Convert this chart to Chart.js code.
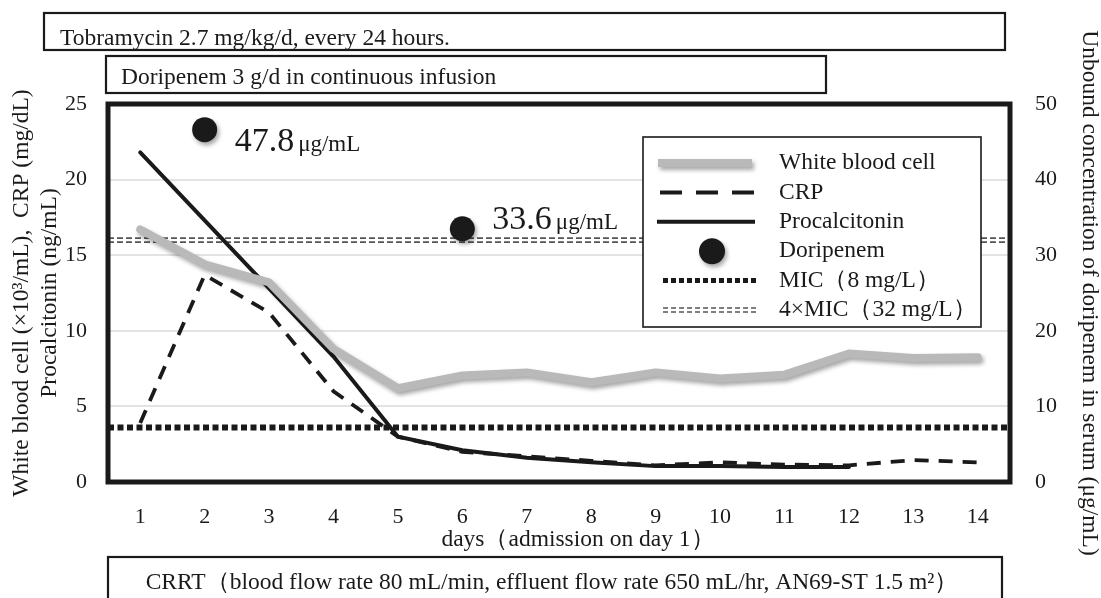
<!DOCTYPE html>
<html lang="en">
<head>
<meta charset="UTF-8">
<title>Doripenem, CRRT</title>
<script src="https://cdn.jsdelivr.net/npm/chart.js"></script>
<style>
  html, body { margin: 0; padding: 0; background: #fff; }
</style>
</head>
<body>
<canvas id="chart" width="1101" height="598"></canvas>
<script>
// values
const days = ['1', '2', '3', '4', '5', '6', '7', '8', '9', '10', '11', '12', '13', '14'];
const wbc = [16.7, 14.4, 13.2, 8.8, 6.2, 7.05, 7.25, 6.6, 7.25, 6.85, 7.1, 8.5, 8.2, 8.25];
const crp = [3.9, 13.7, 11.2, 6.0, 3.0, 2.0, 1.7, 1.4, 1.1, 1.3, 1.15, 1.1, 1.45, 1.3];
const pct = [21.8, 17.3, 12.8, 8.3, 3.0, 2.1, 1.6, 1.3, 1.05, 1.05, 1.0, 1.0, null, null];
const doripenem = [null, 46.6, null, null, null, 33.5, null, null, null, null, null, null, null, null];
const doripenemText = [null, '47.8', null, null, null, '33.6', null, null, null, null, null, null, null, null];
const micLevel = 7.2;    // line sits a bit under 8 in the picture
const mic4Level = 32;

const FONT = "'Liberation Serif', 'Times New Roman', serif";
const INK = '#1a1a1a';
const GRAY = '#b9b9b9';
const TEXT_SIZE = 23.5;

const shadowPlugin = {
    id: 'shadow',
    beforeDatasetDraw(chart, args) {
        const ds = chart.data.datasets[args.index];
        if (!ds.shadow) return;
        const ctx = chart.ctx;
        ctx.save();
        ctx.shadowColor = 'rgba(0,0,0,0.35)';
        ctx.shadowBlur = 4;
        ctx.shadowOffsetX = 2;
        ctx.shadowOffsetY = 3;
    },
    afterDatasetDraw(chart, args) {
        if (chart.data.datasets[args.index].shadow) chart.ctx.restore();
    }
};

// MIC reference lines across the whole plot area
const micPlugin = {
    id: 'mic',
    beforeDatasetsDraw(chart) {
        const { ctx, chartArea: a } = chart;
        const y2 = chart.scales.y2;
        ctx.save();
        let y = y2.getPixelForValue(micLevel);
        ctx.strokeStyle = INK;
        ctx.lineWidth = 6;
        ctx.setLineDash([6, 3.5]);
        ctx.beginPath(); ctx.moveTo(a.left, y); ctx.lineTo(a.right, y); ctx.stroke();

        y = y2.getPixelForValue(mic4Level);
        ctx.strokeStyle = '#555';
        ctx.lineWidth = 1.6;
        ctx.setLineDash([6, 3]);
        [-2, 2].forEach(d => {
            ctx.beginPath(); ctx.moveTo(a.left, y + d); ctx.lineTo(a.right, y + d); ctx.stroke();
        });
        ctx.restore();
    }
};

const valueLabels = {
    id: 'valueLabels',
    afterDatasetsDraw(chart) {
        const ctx = chart.ctx;
        const meta = chart.getDatasetMeta(3);
        const dy = [21, 0];
        let k = 0;
        ctx.save();
        ctx.fillStyle = INK;
        ctx.textBaseline = 'alphabetic';
        meta.data.forEach((pt, i) => {
            if (doripenemText[i] == null) return;
            const x = pt.x + 30, y = pt.y + dy[k++];
            ctx.font = '34px ' + FONT;
            ctx.fillText(doripenemText[i], x, y);
            const w = ctx.measureText(doripenemText[i]).width;
            ctx.font = '23px ' + FONT;
            ctx.fillText('μg/mL', x + w + 4, y);
        });
        ctx.restore();
    }
};

function box(ctx, x, y, w, h, lw) {
    ctx.lineWidth = lw;
    ctx.strokeRect(x, y, w, h);
}

const frame = {
    id: 'frame',
    afterDraw(chart) {
        const { ctx, chartArea: a } = chart;
        ctx.save();
        ctx.strokeStyle = INK;
        ctx.fillStyle = INK;
        ctx.font = TEXT_SIZE + 'px ' + FONT;
        ctx.textBaseline = 'alphabetic';

        // treatment boxes
        box(ctx, 44, 13, 961, 37, 2.2);
        ctx.fillText('Tobramycin 2.7 mg/kg/d, every 24 hours.', 60, 45);
        box(ctx, 106, 56, 720, 37, 2.2);
        ctx.fillText('Doripenem 3 g/d in continuous infusion', 121, 84);
        box(ctx, 108, 557, 894, 60, 2.2);
        ctx.textAlign = 'center';
        ctx.fillText('CRRT（blood flow rate 80 mL/min, effluent flow rate 650 mL/hr, AN69-ST 1.5 m²）', 552, 589);

        // x axis title
        ctx.textBaseline = 'middle';
        ctx.fillText('days（admission on day 1）', 578, 540);
        ctx.textAlign = 'left';

        // legend
        const lx = 643, ly = 137, lw = 338, lh = 190;
        ctx.fillStyle = '#fff';
        ctx.fillRect(lx, ly, lw, lh);
        box(ctx, lx, ly, lw, lh, 1.6);
        const names = ['White blood cell', 'CRP', 'Procalcitonin', 'Doripenem', 'MIC（8 mg/L）', '4×MIC（32 mg/L）'];
        names.forEach((name, i) => {
            const y = 163 + i * 29.4;
            ctx.save();
            ctx.strokeStyle = INK;
            ctx.fillStyle = INK;
            ctx.beginPath();
            if (i === 0) {
                ctx.shadowColor = 'rgba(0,0,0,0.35)'; ctx.shadowBlur = 4; ctx.shadowOffsetX = 2; ctx.shadowOffsetY = 3;
                ctx.strokeStyle = GRAY; ctx.lineWidth = 8;
                ctx.moveTo(658, y); ctx.lineTo(752, y); ctx.stroke();
            } else if (i === 1) {
                ctx.lineWidth = 4; ctx.setLineDash([22, 14]);
                ctx.moveTo(660, y); ctx.lineTo(755, y); ctx.stroke();
            } else if (i === 2) {
                ctx.lineWidth = 4;
                ctx.moveTo(657, y); ctx.lineTo(755, y); ctx.stroke();
            } else if (i === 3) {
                ctx.shadowColor = 'rgba(0,0,0,0.35)'; ctx.shadowBlur = 4; ctx.shadowOffsetX = 2; ctx.shadowOffsetY = 3;
                ctx.arc(712, y, 13, 0, Math.PI * 2); ctx.fill();
            } else if (i === 4) {
                ctx.lineWidth = 5; ctx.setLineDash([5, 3]);
                ctx.moveTo(663, y); ctx.lineTo(758, y); ctx.stroke();
            } else {
                ctx.strokeStyle = '#555'; ctx.lineWidth = 1.5; ctx.setLineDash([5, 3]);
                [-2, 2].forEach(d => { ctx.moveTo(663, y + d); ctx.lineTo(758, y + d); });
                ctx.stroke();
            }
            ctx.restore();
            ctx.fillStyle = INK;
            ctx.textBaseline = 'middle';
            ctx.fillText(name, 779, y);
        });

        // plot frame
        ctx.lineWidth = 5;
        ctx.strokeRect(a.left, a.top, a.right - a.left, a.bottom - a.top);
        ctx.restore();
    }
};

const tickFont = { family: FONT, size: 22 };

new Chart(document.getElementById('chart'), {
    type: 'line',
    data: {
        labels: days,
        datasets: [
            { label: 'White blood cell', data: wbc, yAxisID: 'y', borderColor: GRAY, borderWidth: 8,
              pointRadius: 0, borderJoinStyle: 'round', borderCapStyle: 'round', shadow: true },
            { label: 'CRP', data: crp, yAxisID: 'y', borderColor: INK, borderWidth: 3.8,
              borderDash: [14, 10], pointRadius: 0 },
            { label: 'Procalcitonin', data: pct, yAxisID: 'y', borderColor: INK, borderWidth: 4,
              pointRadius: 0, borderCapStyle: 'round' },
            { label: 'Doripenem', data: doripenem, yAxisID: 'y2', showLine: false,
              pointRadius: 12.5, pointBackgroundColor: INK, pointBorderWidth: 0, shadow: true }
        ]
    },
    options: {
        responsive: false,
        animation: false,
        devicePixelRatio: 1,
        layout: { padding: { top: 104, left: 0, right: 0, bottom: 0 } },
        plugins: { legend: { display: false }, tooltip: { enabled: false } },
        scales: {
            x: {
                offset: true,
                grid: { display: false },
                border: { display: false },
                ticks: { font: tickFont, color: INK, padding: 14, maxRotation: 0 },
                afterFit: s => { s.height = 116; }
            },
            y: {
                position: 'left', min: 0, max: 25,
                ticks: { stepSize: 5, font: tickFont, color: INK, padding: 21 },
                grid: { color: '#e3e3e3', lineWidth: 2, drawTicks: false },
                border: { display: false },
                title: { display: true, text: ['White blood cell (×10³/mL),  CRP (mg/dL)', 'Procalcitonin (ng/mL)'],
                         font: { family: FONT, size: TEXT_SIZE, lineHeight: 1.2 }, color: INK, padding: { top: 8, bottom: 0 } },
                afterFit: s => { s.width = 108; }
            },
            y2: {
                position: 'right', min: 0, max: 50,
                ticks: { stepSize: 10, font: tickFont, color: INK, padding: 25 },
                grid: { display: false, drawTicks: false },
                border: { display: false },
                title: { display: true, text: 'Unbound concentration of doripenem in serum (μg/mL)',
                         font: { family: FONT, size: TEXT_SIZE, lineHeight: 1.0 }, color: INK, padding: { top: 0, bottom: 0 } },
                afterFit: s => { s.width = 91; }
            }
        }
    },
    plugins: [shadowPlugin, micPlugin, valueLabels, frame]
});
</script>
</body>
</html>
